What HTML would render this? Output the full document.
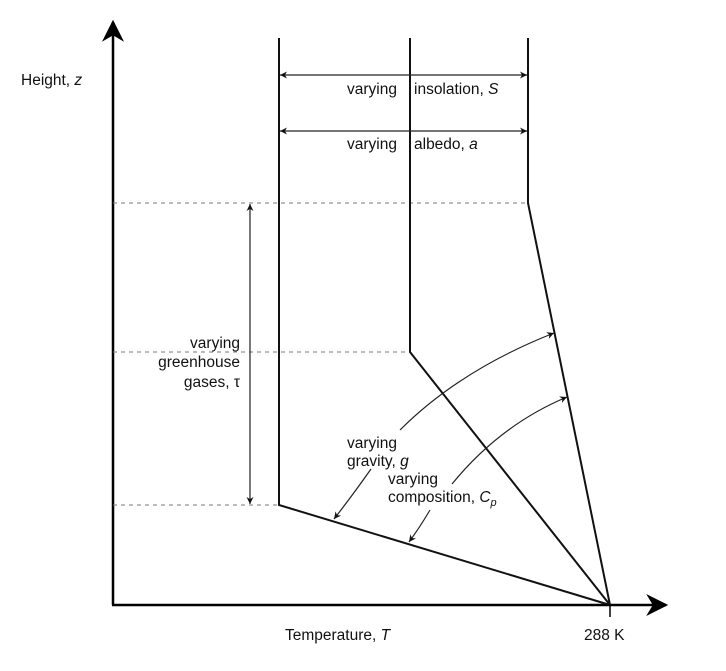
<!DOCTYPE html>
<html><head><meta charset="utf-8"><style>
html,body{margin:0;padding:0;background:#fff}
svg{display:block;font-family:"Liberation Sans",Arial,sans-serif;font-size:15.5px}
</style></head><body>
<svg width="726" height="671" viewBox="0 0 726 671">
<defs>
<marker id="ah" viewBox="0 0 10 10" refX="10" refY="5" markerWidth="10" markerHeight="7" orient="auto-start-reverse" markerUnits="userSpaceOnUse"><path d="M0,0 L10,5 L0,10 L3,5 z" fill="#111"/></marker>
<marker id="big" viewBox="0 0 10 10" refX="9" refY="5" markerWidth="26" markerHeight="22" orient="auto" markerUnits="userSpaceOnUse"><path d="M0,0 L10,5 L0,10 L3,5 z" fill="#000"/></marker>
</defs>
<g stroke="#000" stroke-width="2.5" fill="none">
<line x1="113" y1="605" x2="113" y2="22" marker-end="url(#big)"/>
<line x1="112" y1="605" x2="666" y2="605" marker-end="url(#big)"/>
</g>
<line x1="610" y1="605" x2="610" y2="617" stroke="#000" stroke-width="1.5"/>
<g stroke="#777" stroke-width="1" stroke-dasharray="4,4">
<line x1="113" y1="203" x2="528" y2="203"/>
<line x1="113" y1="352" x2="410" y2="352"/>
<line x1="113" y1="505" x2="279" y2="505"/>
</g>
<g stroke="#111" stroke-width="2" fill="none">
<polyline points="279,38 279,505 610,605"/>
<polyline points="410,38 410,352 610,605"/>
<polyline points="528,38 528,203 610,605"/>
</g>
<g stroke="#222" stroke-width="1.2" fill="none">
<line x1="280" y1="75" x2="527" y2="75" marker-start="url(#ah)" marker-end="url(#ah)"/>
<line x1="280" y1="131" x2="527" y2="131" marker-start="url(#ah)" marker-end="url(#ah)"/>
<line x1="250" y1="204" x2="250" y2="504" marker-start="url(#ah)" marker-end="url(#ah)"/>
<path d="M400,430 Q460,370 554,333" marker-end="url(#ah)"/>
<path d="M371,469 Q352,496 334,519" marker-end="url(#ah)"/>
<path d="M452,484 Q500,425 567,397" marker-end="url(#ah)"/>
<path d="M430,510 Q420,527 409,542" marker-end="url(#ah)"/>
</g>
<g fill="#111">
<text x="21" y="85">Height, <tspan font-style="italic">z</tspan></text>
<text x="285" y="640">Temperature, <tspan font-style="italic">T</tspan></text>
<text x="584" y="640">288 K</text>
<text y="94"><tspan x="347">varying</tspan><tspan x="414">insolation, <tspan font-style="italic">S</tspan></tspan></text>
<text y="149"><tspan x="347">varying</tspan><tspan x="414">albedo, <tspan font-style="italic">a</tspan></tspan></text>
<text text-anchor="end"><tspan x="240" y="348">varying</tspan><tspan x="240" y="367">greenhouse</tspan><tspan x="240" y="387">gases, τ</tspan></text>
<text><tspan x="347" y="448">varying</tspan><tspan x="347" y="466">gravity, <tspan font-style="italic">g</tspan></tspan></text>
<text><tspan x="388" y="484">varying</tspan><tspan x="388" y="502">composition, <tspan font-style="italic">C<tspan font-size="11" dy="4">p</tspan></tspan></tspan></text>
</g>
</svg>
</body></html>
